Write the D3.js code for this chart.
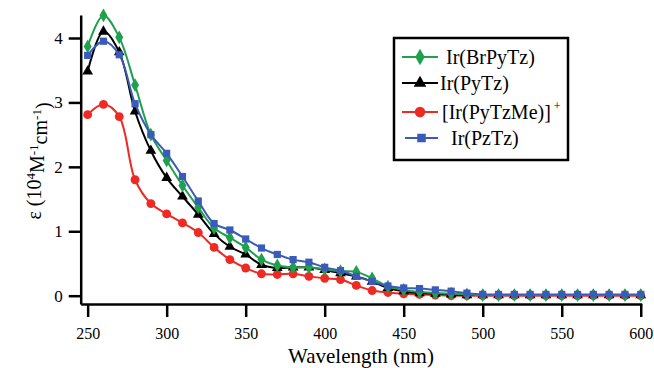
<!DOCTYPE html>
<html>
<head>
<meta charset="utf-8">
<script src="https://cdn.jsdelivr.net/npm/d3@7"></script>
<style>
body { margin: 0; background: #fff; }
svg { display: block; }
.axis path, .axis line { stroke: #000; stroke-width: 2.5; }
.axis text { fill: #000; }
</style>
</head>
<body>
<svg width="654" height="368"></svg>
<script>
// wavelengths (nm), 10 nm steps
var wavelength = [250, 260, 270, 280, 290, 300, 310, 320, 330, 340, 350, 360, 370, 380, 390, 400, 410, 420,
                  430, 440, 450, 460, 470, 480, 490, 500, 510, 520, 530, 540, 550, 560, 570, 580, 590, 600];

// epsilon, 10^4 M^-1 cm^-1
var brPyTz = [3.87, 4.35, 4.01, 3.27, 2.50, 2.10, 1.71, 1.37, 1.05, 0.90, 0.75, 0.56, 0.47, 0.44, 0.44, 0.41, 0.38, 0.37,
              0.27, 0.14, 0.09, 0.06, 0.04, 0.03, 0.02, 0.01, 0.01, 0.01, 0.01, 0.01, 0.01, 0.01, 0.01, 0.01, 0.01, 0.01];
var pyTz   = [3.48, 4.10, 3.78, 2.86, 2.25, 1.83, 1.54, 1.26, 0.96, 0.76, 0.64, 0.48, 0.43, 0.44, 0.44, 0.40, 0.35, 0.30,
              0.22, 0.12, 0.07, 0.04, 0.03, 0.02, 0.01, 0.01, 0.01, 0.01, 0.01, 0.01, 0.01, 0.01, 0.01, 0.01, 0.01, 0.01];
var pyTzMe = [2.81, 2.97, 2.78, 1.80, 1.43, 1.27, 1.13, 0.98, 0.75, 0.56, 0.43, 0.34, 0.33, 0.34, 0.30, 0.27, 0.25, 0.16,
              0.08, 0.05, 0.03, 0.02, 0.01, 0.00, 0.00, 0.00, 0.00, 0.00, 0.00, 0.00, 0.00, 0.00, 0.00, 0.00, 0.00, 0.00];
var pzTz   = [3.73, 3.95, 3.74, 2.98, 2.50, 2.21, 1.85, 1.47, 1.12, 1.02, 0.88, 0.74, 0.64, 0.56, 0.52, 0.44, 0.39, 0.30,
              0.22, 0.15, 0.12, 0.11, 0.09, 0.07, 0.04, 0.02, 0.02, 0.02, 0.02, 0.02, 0.02, 0.02, 0.02, 0.02, 0.02, 0.02];

var x_ticks = [250, 300, 350, 400, 450, 500, 550, 600];
var y_ticks = [0, 1, 2, 3, 4];

var series = [
    {id: "Ir(BrPyTz)", values: brPyTz, color: "#1fa04c", symbol: d3.symbolDiamond, size: 55},
    {id: "Ir(PyTz)", values: pyTz, color: "#000000", symbol: d3.symbolTriangle, size: 50},
    {id: "[Ir(PyTzMe)]", sup: "+", values: pyTzMe, color: "#ee2a24", symbol: d3.symbolCircle, size: 62},
    {id: "Ir(PzTz)", values: pzTz, color: "#3a5cb8", symbol: d3.symbolSquare, size: 52}
];

var svg = d3.select("svg");
var serif = "'Liberation Serif', 'Times New Roman', Times, 'DejaVu Serif', serif";

var x = d3.scaleLinear().domain([245.6, 600.6]).range([80.7, 641.7]);
var y = d3.scaleLinear().domain([0, 4]).range([295.7, 38]);
var y_axis_scale = d3.scaleLinear().domain([y.invert(304), y.invert(15)]).range([304, 15]);

svg.append("g")
    .attr("class", "axis axis--x")
    .attr("transform", "translate(0,304)")
    .call(d3.axisBottom(x).tickValues(x_ticks).tickFormat(d3.format("d"))
        .tickSize(13).tickSizeOuter(0).tickPadding(11));

svg.append("g")
    .attr("class", "axis axis--y")
    .attr("transform", "translate(80.7,0)")
    .call(d3.axisLeft(y_axis_scale).tickValues(y_ticks).tickFormat(d3.format("d"))
        .tickSize(12).tickSizeOuter(0).tickPadding(6));

svg.selectAll(".axis").attr("font-family", serif).attr("font-size", 16);
svg.select(".axis--y").attr("font-size", 17);

var line = d3.line()
    .curve(d3.curveCatmullRom.alpha(0.5))
    .x(function(d, i) { return x(wavelength[i]); })
    .y(function(d) { return y(d); });

// draw order so blue sits on top like the figure
var order = [2, 1, 0, 3];
order.forEach(function(k) {
    var s = series[k];
    var g = svg.append("g");
    g.append("path")
        .attr("d", line(s.values))
        .attr("fill", "none")
        .attr("stroke", s.color)
        .attr("stroke-width", 2);
    g.selectAll(".pt")
        .data(s.values)
        .enter()
        .append("path")
        .attr("transform", function(d, i) { return "translate(" + x(wavelength[i]) + "," + y(d) + ")"; })
        .attr("d", d3.symbol().type(s.symbol).size(s.size))
        .attr("fill", s.color);
});

// legend
var lg = svg.append("g");
lg.append("rect")
    .attr("x", 394).attr("y", 38).attr("width", 174).attr("height", 122)
    .attr("fill", "#fff").attr("stroke", "#000").attr("stroke-width", 2.5);

var leg_y = [57, 83, 112, 138];
var leg_x0 = [402, 402, 402, 405];
var leg_tx = [446, 440, 442, 451];
series.forEach(function(s, i) {
    lg.append("line")
        .attr("x1", leg_x0[i]).attr("x2", 438)
        .attr("y1", leg_y[i]).attr("y2", leg_y[i])
        .attr("stroke", s.color).attr("stroke-width", 2);
    lg.append("path")
        .attr("transform", "translate(" + ((leg_x0[i] + 438) / 2) + "," + leg_y[i] + ")")
        .attr("d", d3.symbol().type(s.symbol).size(s.size * 1.4))
        .attr("fill", s.color);
    var t = lg.append("text")
        .attr("x", leg_tx[i]).attr("y", leg_y[i])
        .attr("dy", "0.33em")
        .attr("font-family", serif)
        .attr("font-size", 20)
        .text(s.id);
    if (s.sup) {
        t.append("tspan")
            .attr("dx", 3).attr("dy", "-0.75em")
            .attr("font-size", 12)
            .text(s.sup);
    }
});

// axis titles
svg.append("text")
    .attr("x", 361).attr("y", 363)
    .attr("text-anchor", "middle")
    .attr("font-family", serif)
    .attr("font-size", 21)
    .text("Wavelength (nm)");

var yt = svg.append("text")
    .attr("transform", "translate(41,161) rotate(-90)")
    .attr("text-anchor", "middle")
    .attr("font-family", serif)
    .attr("font-size", 20);
yt.append("tspan").text("ε (10");
yt.append("tspan").attr("dy", "-0.45em").attr("font-size", 13).text("4");
yt.append("tspan").attr("dy", "0.45em").text("M");
yt.append("tspan").attr("dy", "-0.45em").attr("font-size", 13).text("-1");
yt.append("tspan").attr("dy", "0.45em").text("cm");
yt.append("tspan").attr("dy", "-0.45em").attr("font-size", 13).text("-1");
yt.append("tspan").attr("dy", "0.45em").text(")");
</script>
</body>
</html>
